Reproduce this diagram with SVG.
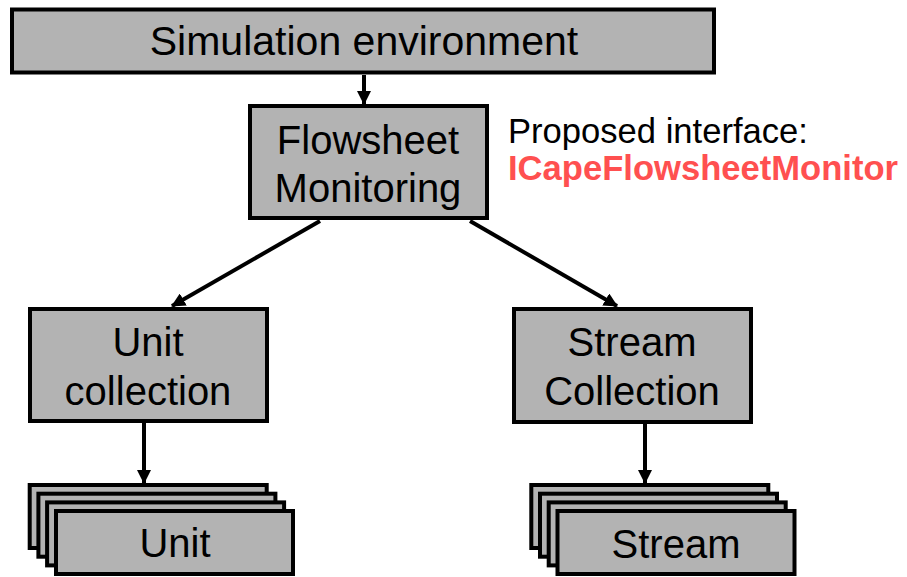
<svg xmlns="http://www.w3.org/2000/svg" width="907" height="577" viewBox="0 0 907 577">
<style>
.box{fill:#b3b3b3;stroke:#000;stroke-width:4}
.t{font-family:"Liberation Sans",Arial,sans-serif;fill:#000;text-anchor:middle}
.big{font-size:40px}
.edge{stroke:#000;stroke-width:4;fill:none;marker-end:url(#ah)}
</style>
<defs>
<marker id="ah" markerUnits="userSpaceOnUse" markerWidth="14" markerHeight="14" viewBox="0 0 14 14" refX="13" refY="7" orient="auto">
<path d="M0,0 L14,7 L0,14 Z" fill="#000"/>
</marker>
</defs>
<rect width="907" height="577" fill="#fff"/>
<g id="sim">
<rect class="box" x="12" y="9.5" width="702" height="63"/>
<text class="t" x="364" y="55" font-size="41">Simulation environment</text>
</g>
<g id="flowsheet">
<rect class="box" x="250" y="106" width="237" height="112"/>
<text class="t big" x="368" y="154">Flowsheet</text>
<text class="t big" x="368" y="202">Monitoring</text>
</g>
<g id="label">
<text x="508" y="143" font-family="Liberation Sans,Arial,sans-serif" font-size="34.6" fill="#000">Proposed interface:</text>
<text x="508" y="180" font-family="Liberation Sans,Arial,sans-serif" font-size="34.6" font-weight="bold" fill="#ff5050">ICapeFlowsheetMonitor</text>
</g>
<g id="unitcoll">
<rect class="box" x="30" y="309" width="237" height="112"/>
<text class="t big" x="148" y="356">Unit</text>
<text class="t big" x="148" y="405">collection</text>
</g>
<g id="streamcoll">
<rect class="box" x="514" y="309" width="237" height="113"/>
<text class="t big" x="632" y="356">Stream</text>
<text class="t big" x="632" y="405">Collection</text>
</g>
<g id="units">
<rect class="box" x="29.7" y="485" width="237" height="63"/>
<rect class="box" x="38.4" y="493.7" width="237" height="63"/>
<rect class="box" x="47.1" y="502.4" width="237" height="63"/>
<rect class="box" x="56" y="511" width="237" height="63"/>
<text class="t big" x="175" y="557">Unit</text>
</g>
<g id="streams">
<rect class="box" x="531.3" y="485" width="237" height="63"/>
<rect class="box" x="540" y="493.7" width="237" height="63"/>
<rect class="box" x="548.7" y="502.4" width="237" height="63"/>
<rect class="box" x="557.5" y="511" width="237" height="63"/>
<text class="t big" x="676" y="558">Stream</text>
</g>
<g id="connectors">
<line class="edge" x1="364" y1="75" x2="364" y2="104"/>
<line class="edge" x1="320" y1="221" x2="172" y2="306"/>
<line class="edge" x1="470" y1="221" x2="617" y2="306"/>
<line class="edge" x1="144" y1="423" x2="144" y2="483"/>
<line class="edge" x1="645" y1="424" x2="645" y2="483"/>
</g>
</svg>
